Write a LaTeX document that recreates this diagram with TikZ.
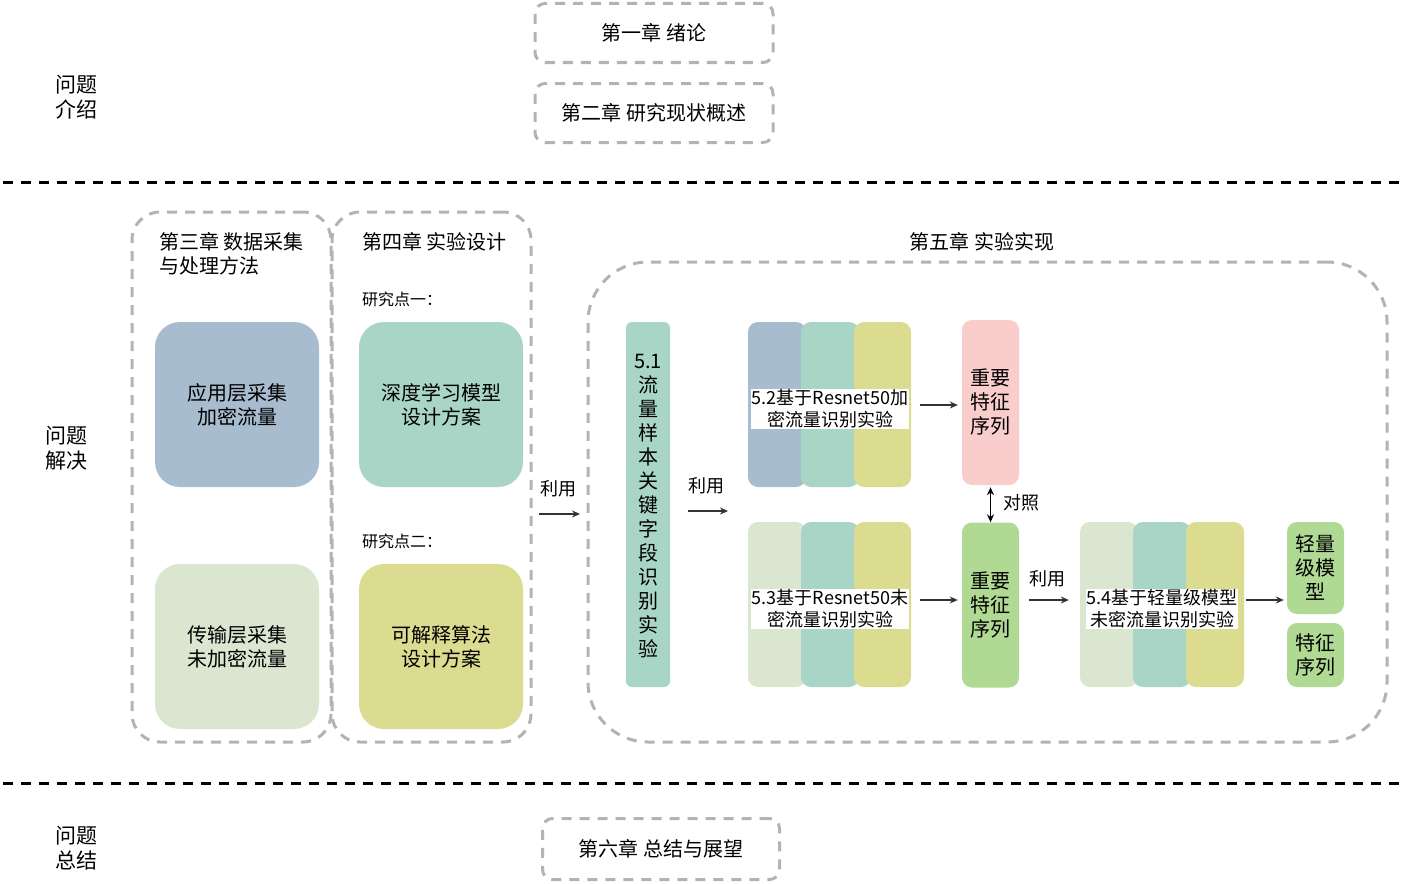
\documentclass[tikz,border=0pt]{standalone}
\usepackage{fontspec}
\setmainfont{Noto Sans CJK SC}
\usetikzlibrary{arrows.meta}
\definecolor{dgray}{HTML}{B3B3B3}
\definecolor{cblue}{HTML}{A7BCCE}
\definecolor{cteal}{HTML}{A8D5C6}
\definecolor{cyel}{HTML}{DCDC91}
\definecolor{clgreen}{HTML}{DBE6D1}
\definecolor{cpink}{HTML}{F8CDCB}
\definecolor{cgreen}{HTML}{B0D993}
\definecolor{carrow}{HTML}{333333}
\tikzset{
  dbox/.style={draw=dgray, line width=3pt, dash pattern=on 10pt off 8pt},
  sep/.style={draw=black, line width=3pt, dash pattern=on 10pt off 8pt},
  fbox/.style={draw=none, rounded corners=#1, inner sep=0pt},
  txt/.style={font=\fontsize{20}{24}\selectfont, align=center, inner sep=0pt},
  stxt/.style={font=\fontsize{18}{22}\selectfont, align=center, inner sep=0pt},
  ltxt/.style={font=\fontsize{20}{24}\selectfont, align=left, inner sep=0pt, anchor=west},
  rtxt/.style={font=\fontsize{16}{20}\selectfont, inner sep=0pt, anchor=west},
  lab/.style={font=\fontsize{18}{22}\selectfont, align=center, inner sep=0.5pt, fill=white},
  arr/.style={draw=carrow, line width=1.3pt, -{Stealth[length=8pt,width=7pt]}},
  darr/.style={draw=black, line width=1.3pt, {Stealth[length=8pt,width=7pt]}-{Stealth[length=8pt,width=7pt]}}
}
\begin{document}
\begin{tikzpicture}[x=1pt,y=-1pt]
\useasboundingbox (0,0) rectangle (1404,883);
% left labels
\node[ltxt, font=\fontsize{21}{25}\selectfont] (q1) at (55,97) {问题\\介绍};
\node[ltxt, font=\fontsize{21}{25}\selectfont] (q2) at (45,448) {问题\\解决};
\node[ltxt, font=\fontsize{21}{25}\selectfont] (q3) at (55,848) {问题\\总结};
% separators
\coordinate (s1a) at (3,182); \coordinate (s1b) at (1400,182);
\coordinate (s2a) at (3,783); \coordinate (s2b) at (1400,783);
\draw[sep] (s1a) -- (s1b);
\draw[sep] (s2a) -- (s2b);
% chapter 1,2,6
\node[dbox, rounded corners=10pt, minimum width=238pt, minimum height=59pt, txt] (c1) at (654,33) {第一章 绪论};
\node[dbox, rounded corners=10pt, minimum width=238pt, minimum height=59pt, txt] (c2) at (654,113) {第二章 研究现状概述};
\node[dbox, rounded corners=10pt, minimum width=237pt, minimum height=61pt, txt] (c6) at (661,849) {第六章 总结与展望};
% chapter 3,4 frames
\node[dbox, rounded corners=28pt, minimum width=199pt, minimum height=530pt] (c3) at (231.5,477) {};
\node[dbox, rounded corners=28pt, minimum width=199pt, minimum height=530pt] (c4) at (431.5,477) {};
\node[ltxt, anchor=north west] (c3t) at (159,232) {第三章 数据采集\\与处理方法};
\node[ltxt, anchor=north west] (c4t) at (362,232) {第四章 实验设计};
\node[rtxt] (r1) at (362,299) {研究点一：};
\node[rtxt] (r2) at (362,541) {研究点二：};
\node[fbox=25pt, fill=cblue, minimum width=164pt, minimum height=165pt, txt] (b1) at (237,404.5) {应用层采集\\加密流量};
\node[fbox=25pt, fill=clgreen, minimum width=164pt, minimum height=165pt, txt] (b2) at (237,646.5) {传输层采集\\未加密流量};
\node[fbox=25pt, fill=cteal, minimum width=164pt, minimum height=165pt, txt] (b3) at (441,404.5) {深度学习模型\\设计方案};
\node[fbox=25pt, fill=cyel, minimum width=164pt, minimum height=165pt, txt] (b4) at (441,646.5) {可解释算法\\设计方案};
% use arrow 1
\node[stxt] (u1) at (558,489) {利用};
\coordinate (u1a) at (539,514); \coordinate (u1b) at (580,514);
\draw[arr] (u1a) -- (u1b);
% chapter 5 frame
\node[dbox, rounded corners=60pt, minimum width=799pt, minimum height=480pt] (c5) at (987.5,502) {};
\node[txt] (c5t) at (982,242) {第五章 实验实现};
% 5.1
\node[fbox=6pt, fill=cteal, minimum width=44pt, minimum height=365pt] (e51) at (648,504.5) {};
\node[txt] (e51t) at (648,506) {5.1\\流\\量\\样\\本\\关\\键\\字\\段\\识\\别\\实\\验};
\node[stxt] (u2) at (706,486) {利用};
\coordinate (u2a) at (688,511); \coordinate (u2b) at (728,511);
\draw[arr] (u2a) -- (u2b);
% 5.2 stack
\node[fbox=10pt, fill=cblue, minimum width=58pt, minimum height=165pt] (s21) at (777,404.5) {};
\node[fbox=10pt, fill=cteal, minimum width=58pt, minimum height=165pt] (s22) at (830,404.5) {};
\node[fbox=10pt, fill=cyel, minimum width=57pt, minimum height=165pt] (s23) at (882.5,404.5) {};
\node[lab] (s2t) at (830,409) {5.2基于Resnet50加\\密流量识别实验};
% pink
\node[fbox=10pt, fill=cpink, minimum width=57pt, minimum height=165pt, txt] (pk) at (990.5,402.5) {重要\\特征\\序列};
\draw[arr, shorten <=9pt, shorten >=4pt] (s23.east |- 0,405) -- (pk.west |- 0,405);
% 5.3 stack
\node[fbox=10pt, fill=clgreen, minimum width=58pt, minimum height=165pt] (s31) at (777,604.5) {};
\node[fbox=10pt, fill=cteal, minimum width=58pt, minimum height=165pt] (s32) at (830,604.5) {};
\node[fbox=10pt, fill=cyel, minimum width=57pt, minimum height=165pt] (s33) at (882.5,604.5) {};
\node[lab] (s3t) at (830,609) {5.3基于Resnet50未\\密流量识别实验};
% green
\node[fbox=10pt, fill=cgreen, minimum width=57pt, minimum height=165pt, txt] (gr) at (990.5,605) {重要\\特征\\序列};
\draw[arr, shorten <=9pt, shorten >=4pt] (s33.east |- 0,600) -- (gr.west |- 0,600);
\draw[darr, shorten <=2pt, shorten >=0pt] (pk.south) -- (gr.north);
\node[stxt] (dz) at (1021,503) {对照};
% 5.4 stack
\node[fbox=10pt, fill=clgreen, minimum width=58pt, minimum height=165pt] (s41) at (1109,604.5) {};
\node[fbox=10pt, fill=cteal, minimum width=58pt, minimum height=165pt] (s42) at (1162,604.5) {};
\node[fbox=10pt, fill=cyel, minimum width=58pt, minimum height=165pt] (s43) at (1215,604.5) {};
\node[lab] (s4t) at (1162,609) {5.4基于轻量级模型\\未密流量识别实验};
\node[stxt] (u3) at (1047,579) {利用};
\draw[arr, shorten <=10pt, shorten >=11pt] (gr.east |- 0,600) -- (s41.west |- 0,600);
% outputs
\node[fbox=10pt, fill=cgreen, minimum width=57pt, minimum height=92pt, txt] (o1) at (1315.5,568) {轻量\\级模\\型};
\node[fbox=10pt, fill=cgreen, minimum width=57pt, minimum height=64pt, txt] (o2) at (1315.5,655) {特征\\序列};
\draw[arr, shorten <=2pt, shorten >=3pt] (s43.east |- 0,600) -- (o1.west |- 0,600);
\end{tikzpicture}
\end{document}
